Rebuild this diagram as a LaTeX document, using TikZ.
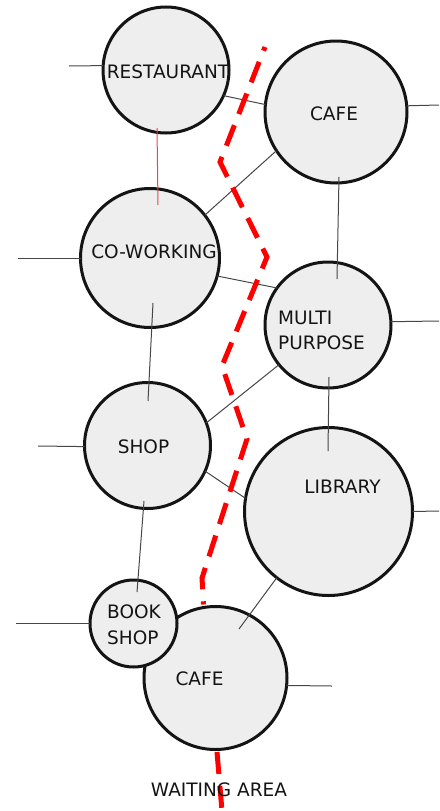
\documentclass[tikz,border=0pt]{standalone}
\usepackage{fontspec}
\setmainfont{DejaVu Sans}
\usetikzlibrary{calc}
\definecolor{roomfill}{RGB}{238,238,238}
\definecolor{ink}{RGB}{20,20,20}
\definecolor{wire}{RGB}{70,70,70}
\definecolor{pathred}{RGB}{255,0,0}
\definecolor{thinred}{RGB}{235,70,70}
\begin{document}
\begin{tikzpicture}[x=1pt,y=-1pt,
 room/.style={circle,draw=ink,fill=roomfill,line width=3pt,inner sep=0pt,outer sep=0pt,minimum size=#1},
 lbl/.style={inner sep=0pt,text=ink,font=\fontsize{18.5}{25}\selectfont},
 wirel/.style={draw=wire,line width=1pt},
 redwire/.style={draw=thinred,line width=1pt},
 route/.style={draw=pathred,line width=5pt,dash pattern=on 22pt off 12pt}]
\useasboundingbox (0,0) rectangle (439,811);

% rooms
\node[room=126pt] (rest) at (166,70) {};
\node[room=142pt] (cafeA) at (336,112) {};
\node[room=139pt] (cowork) at (150,258) {};
\node[room=126pt] (multi) at (328,325) {};
\node[room=126pt] (shop) at (147.5,445.5) {};
\node[room=168pt] (lib) at (328.5,511.5) {};
\node[room=143pt] (cafeB) at (215.5,678) {};
\node[room=87pt] (book) at (133.5,623.5) {};

% free ends of stubs
\coordinate (s1) at (69,66);
\coordinate (s2) at (439,105);
\coordinate (s3) at (18,258);
\coordinate (s4) at (439,321);
\coordinate (s5) at (38,446);
\coordinate (s6) at (439,511);
\coordinate (s7) at (16,623.5);
\coordinate (s8) at (332,686);

% connectors
\draw[wirel] (s1) -- (rest.176);
\draw[wirel] (rest.-24) -- (cafeA.174);
\draw[redwire] ($(rest)+(-9,58)$) -- ($(cowork)+(8,-53)$);
\draw[wirel] (cafeA.5) -- (s2);
\draw[wirel] ($(cafeA)+(3,65)$) -- ($(multi)+(9,-46)$);
\draw[wirel] (cafeA.213) -- (cowork.38);
\draw[wirel] (s3) -- (cowork.west);
\draw[wirel] (cowork.-15) -- (multi.144);
\draw[wirel] ($(cowork)+(3,45)$) -- ($(shop)+(0.5,-44.5)$);
\draw[wirel] (multi.3) -- (s4);
\draw[wirel] (multi.219) -- (shop.21);
\draw[wirel] ($(multi)+(1,52)$) -- ($(lib)+(-0.5,-60.5)$);
\draw[wirel] (s5) -- (shop.181);
\draw[wirel] (shop.-24) -- (lib.171);
\draw[wirel] ($(shop)+(-3.5,55.5)$) -- ($(book)+(3.5,-31.5)$);
\draw[wirel] (lib.east) -- (s6);
\draw[wirel] (lib.232) -- ($(cafeB)+(23.5,-49)$);
\draw[wirel] (s7) -- (book.west);
\draw[wirel] (cafeB.-6) -- (s8);

% red route
\coordinate (r0) at (265,47);
\coordinate (r1) at (220,162);
\coordinate (r2) at (267,257);
\coordinate (r3) at (222,366);
\coordinate (r4) at (247,439);
\coordinate (r5) at (202,578);
\coordinate (r6) at ($(cafeB)+(-12,-73.5)$);
\coordinate (r7) at ($(cafeB)+(1.5,74)$);
\coordinate (r8) at (222,811);
\draw[route,dash phase=18pt] (r0) -- (r1) -- (r2) -- (r3) -- (r4) -- (r5) -- (r6);
\draw[route] (r7) -- (r8);

% labels
\node[lbl] (tRest) at (168,72) {RESTAURANT};
\node[lbl] (tCafeA) at (334,114) {CAFE};
\node[lbl] (tCowork) at (154,252) {CO-WORKING};
\node[lbl,anchor=west,align=left] (tMulti) at (278,330.5) {MULTI\\PURPOSE};
\node[lbl] (tShop) at (143.5,447) {SHOP};
\node[lbl] (tLib) at (342.5,487) {LIBRARY};
\node[lbl,anchor=west,align=left] (tBook) at (107,625) {BOOK\\[1pt]SHOP};
\node[lbl] (tCafeB) at (199.5,679) {CAFE};
\node[lbl] (tWait) at (219,790) {WAITING AREA};
\end{tikzpicture}
\end{document}
